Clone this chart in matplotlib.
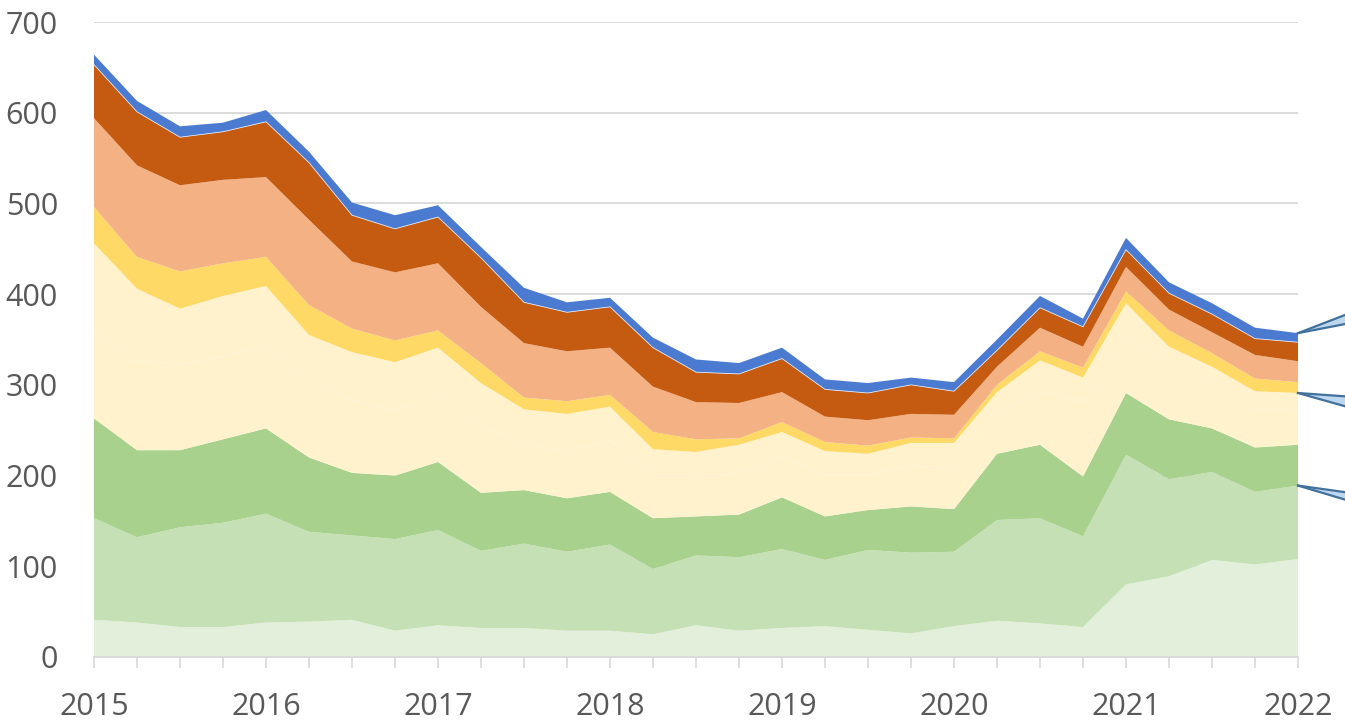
import matplotlib
matplotlib.use("Agg")
import matplotlib.pyplot as plt
import numpy as np

# quarterly data, 2015 Q1 .. 2022 Q1
years = [2015, 2016, 2017, 2018, 2019, 2020, 2021, 2022]
n_quarters = 29

s_verylight = [41, 38, 33, 33, 38, 39, 41, 29, 35, 32, 32, 29, 29, 25, 35, 29, 32, 34, 30, 26, 34, 40, 37, 33, 80, 89, 107, 102, 108]
s_lightgreen = [112, 94, 110, 115, 120, 99, 93, 101, 105, 85, 93, 87, 95, 72, 77, 81, 87, 73, 88, 89, 82, 111, 116, 100, 143, 107, 97, 80, 81]
s_green = [110, 96, 85, 92, 94, 82, 69, 70, 75, 64, 59, 59, 58, 56, 43, 47, 57, 48, 44, 51, 47, 73, 81, 66, 68, 66, 48, 49, 45]
s_cream1 = [97, 99, 95, 91, 92, 82, 80, 72, 73, 73, 52, 51, 57, 48, 43, 46, 45, 46, 39, 45, 45, 43, 60, 82, 59, 60, 48, 42, 38]
s_cream2 = [96, 79, 61, 67, 65, 53, 53, 53, 53, 48, 37, 42, 37, 28, 28, 31, 27, 26, 23, 25, 28, 25, 33, 27, 40, 20, 20, 20, 19]
s_yellow = [40, 35, 41, 36, 32, 33, 26, 24, 19, 22, 13, 14, 13, 19, 14, 7, 11, 10, 9, 6, 5, 8, 10, 11, 13, 18, 15, 14, 12]
s_lightorange = [98, 101, 95, 92, 88, 94, 74, 75, 74, 62, 60, 55, 52, 50, 41, 39, 33, 28, 28, 26, 26, 20, 26, 23, 27, 23, 23, 26, 23]
s_darkorange = [59, 59, 53, 53, 61, 63, 51, 48, 51, 54, 45, 43, 45, 43, 33, 32, 37, 30, 30, 32, 26, 18, 22, 22, 19, 18, 20, 18, 21]
s_blue = [11, 12, 12, 10, 13, 12, 14, 15, 13, 12, 16, 11, 10, 11, 14, 12, 12, 11, 11, 8, 10, 12, 13, 9, 13, 12, 12, 12, 10]

series = [s_verylight, s_lightgreen, s_green, s_cream1, s_cream2,
          s_yellow, s_lightorange, s_darkorange, s_blue]
colors = ['#e2efda', '#c5e0b4', '#a9d18e', '#fff2cc', '#fff2cc',
          '#ffd966', '#f4b183', '#c55a11', '#4a7bd0']

x = 2015 + np.arange(n_quarters) / 4.0
data = np.array(series, dtype=float)
cum = np.cumsum(data, axis=0)

fig = plt.figure(figsize=(13.45, 7.21), dpi=100)
ax = fig.add_axes([94 / 1345, 1 - 657 / 721, (1298 - 94) / 1345, (657 - 22) / 721])

ax.stackplot(x, data, colors=colors, linewidth=0, zorder=2)
# faint seam between the two cream layers and thin light seam under the blue layer
ax.plot(x, cum[3], color='#fff5d8', lw=0.6, zorder=3)
ax.plot(x, cum[7], color='#dfe6f5', lw=0.6, zorder=3)

ax.set_xlim(2015, 2022)
ax.set_ylim(0, 700)
ax.set_yticks(np.arange(0, 701, 100))
ax.set_xticks(years)
ax.set_xticks(x, minor=True)

ax.grid(axis='y', color='#d9d9d9', lw=1.3, zorder=0)
ax.set_axisbelow(True)
for side in ['left', 'right', 'top']:
    ax.spines[side].set_visible(False)
ax.spines['bottom'].set_color('#d9d9d9')
ax.spines['bottom'].set_linewidth(1.3)

ax.tick_params(axis='y', length=0, pad=26, labelsize=22, labelcolor='#595959')
ax.tick_params(axis='x', which='both', length=8, width=1.2, color='#d9d9d9')
ax.tick_params(axis='x', which='major', pad=17, labelsize=22, labelcolor='#595959')
for lab in ax.get_xticklabels() + ax.get_yticklabels():
    lab.set_family('Open Sans')

# clipped data label leader lines on the right edge
leader_levels = [cum[8][-1], cum[4][-1], cum[1][-1]]
leader_ends = [(22, 11), (-4, -16), (-8, -17)]
for y0, (d1, d2) in zip(leader_levels, leader_ends):
    ax.fill([2022, 2022.3, 2022.3], [y0, y0 + d1, y0 + d2], color='#bdd7ee',
            clip_on=False, zorder=4, lw=0)
    ax.plot([2022, 2022.3], [y0, y0 + d1], color='#41719c', lw=1.6, clip_on=False, zorder=5)
    ax.plot([2022, 2022.3], [y0, y0 + d2], color='#41719c', lw=1.6, clip_on=False, zorder=5)

fig.savefig('out.png', dpi=100)
